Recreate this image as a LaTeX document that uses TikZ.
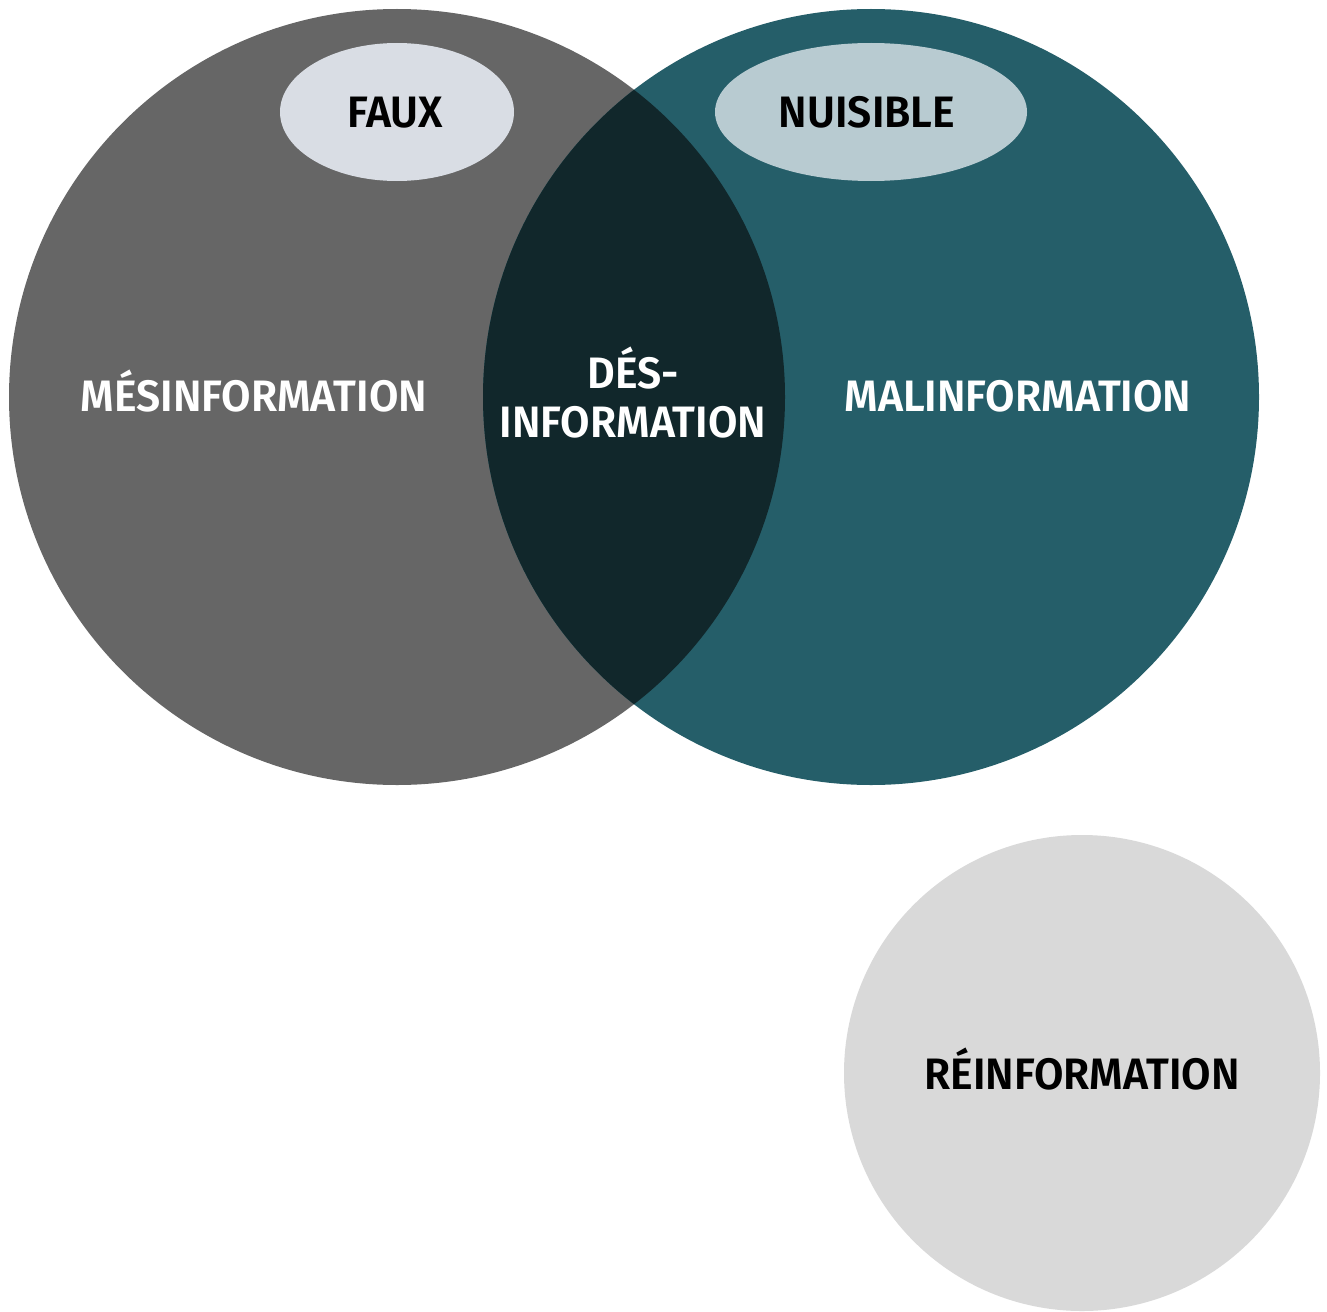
\documentclass[tikz,border=0pt]{standalone}
\usepackage{fontspec}
\setmainfont{Fira Sans}
\newfontfamily\labfont{Fira Sans}[BoldFont={Fira Sans SemiBold}, FakeStretch=0.97]
\usetikzlibrary{shapes.geometric}
\definecolor{mesgray}{HTML}{666666}
\definecolor{malteal}{HTML}{255E69}
\definecolor{desdark}{HTML}{11272B}
\definecolor{fauxfill}{HTML}{D9DDE4}
\definecolor{nuisfill}{HTML}{B8CBD1}
\definecolor{reinfill}{HTML}{D9D9D9}
\tikzset{
  bigcirc/.style={circle, inner sep=0pt, minimum size=776pt},
  tagell/.style={ellipse, inner sep=0pt, minimum height=138pt},
  lab/.style={font=\labfont\bfseries\fontsize{44}{49}\selectfont, align=center, inner sep=0pt, anchor=base},
}
\begin{document}
\begin{tikzpicture}[x=1pt,y=-1pt]
\useasboundingbox (0,0) rectangle (1327,1311);
\node[bigcirc, fill=mesgray] (mes) at (397,397) {};
\node[bigcirc, fill=malteal] (mal) at (871,397) {};
\begin{scope}
  \clip (397,397) circle (388pt);
  \fill[desdark] (871,397) circle (388pt);
\end{scope}
\node[circle, inner sep=0pt, minimum size=476pt, fill=reinfill] (rei) at (1082,1073) {};
\node[tagell, minimum width=234pt, fill=fauxfill] (faux) at (397,112) {};
\node[tagell, minimum width=312pt, fill=nuisfill] (nuis) at (871,112) {};
\node[lab, black] (fauxt) at (395,128) {FAUX};
\node[lab, black] (nuist) at (867,128) {NUISIBLE};
\node[lab, white] (mest) at (254,411) {MÉSINFORMATION};
\node[lab, white] (malt) at (1018,411) {MALINFORMATION};
\node[lab, white] (dest) at (633,437) {DÉS-\\INFORMATION};
\node[lab, black] (reit) at (1082,1089) {RÉINFORMATION};
\end{tikzpicture}
\end{document}
